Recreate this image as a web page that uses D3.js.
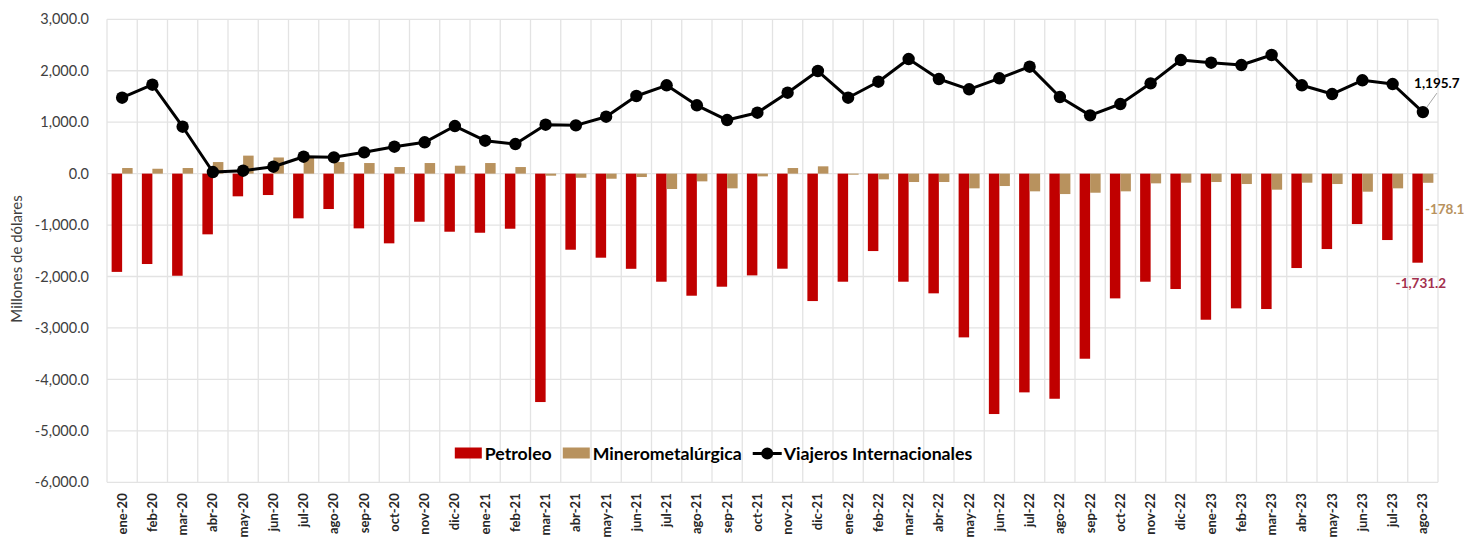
<!DOCTYPE html>
<html>
<head>
<meta charset="utf-8">
<script src="https://cdn.jsdelivr.net/npm/d3@7"></script>
<style>
  body { margin: 0; background: #ffffff; }
  svg { display: block; font-family: Lato, "Open Sans", sans-serif; }
</style>
</head>
<body>
<div id="chart"></div>
<script>
// Données (millones de dólares)
const meses = ["ene-20","feb-20","mar-20","abr-20","may-20","jun-20","jul-20","ago-20","sep-20","oct-20","nov-20","dic-20",
  "ene-21","feb-21","mar-21","abr-21","may-21","jun-21","jul-21","ago-21","sep-21","oct-21","nov-21","dic-21",
  "ene-22","feb-22","mar-22","abr-22","may-22","jun-22","jul-22","ago-22","sep-22","oct-22","nov-22","dic-22",
  "ene-23","feb-23","mar-23","abr-23","may-23","jun-23","jul-23","ago-23"];

const petroleo = [-1910,-1757,-1985,-1180,-441,-416,-869,-688,-1064,-1355,-935,-1129,
  -1149,-1071,-4440,-1479,-1634,-1850,-2101,-2373,-2198,-1978,-1848,-2477,
  -2101,-1505,-2101,-2327,-3183,-4673,-4252,-4376,-3598,-2425,-2101,-2243,
  -2840,-2619,-2632,-1835,-1466,-980,-1291,-1731.2];

const minero = [109,95,109,225,350,314,310,225,206,128,206,154,
  206,128,-40,-80,-99,-66,-299,-150,-286,-53,109,142,
  -20,-111,-163,-163,-286,-241,-344,-397,-371,-344,-189,-176,
  -163,-202,-312,-176,-202,-351,-286,-178.1];

const viajeros = [1476,1729,912,31,57,134,329,317,414,523,609,925,
  640,575,951,939,1106,1509,1717,1328,1042,1184,1573,1995,
  1476,1787,2228,1839,1639,1853,2079,1489,1133,1353,1755,2208,
  2156,2111,2306,1717,1547,1814,1742,1195.7];

const series = ["Petroleo", "Minerometalúrgica"];
const yTicks = [3000, 2000, 1000, 0, -1000, -2000, -3000, -4000, -5000, -6000];

//---------------------------------------------------------------------------------------

const width = 1472;
const height = 539;
const margin = {left: 107, right: 34, top: 19.3, bottom: 56.7};

const colRojo = "#C00000";
const colOcre = "#B8925E";

// formateur avec le tiret ASCII
const loc = d3.formatLocale({decimal: ".", thousands: ",", grouping: [3], currency: ["$", ""], minus: "-"});
const fmt = loc.format(",.1f");

const svg = d3.select("#chart")
  .append("svg")
  .attr("width", width)
  .attr("height", height);

// échelles
const x = d3.scaleBand()
  .domain(meses)
  .range([margin.left, width - margin.right])
  .padding(0);

const xSub = d3.scaleBand()
  .domain(series)
  .range([0, x.bandwidth()])
  .paddingInner(0)
  .paddingOuter(0.44);

const y = d3.scaleLinear()
  .domain([-6000, 3000])
  .range([height - margin.bottom, margin.top]);

//---------------------------------------------------------------------------------------

// grille
const grid = svg.append("g").attr("stroke", "#e3e3e3").attr("stroke-width", 1.3);

grid.selectAll(".h")
  .data(yTicks)
  .join("line")
  .attr("x1", margin.left)
  .attr("x2", width - margin.right)
  .attr("y1", d => y(d))
  .attr("y2", d => y(d));

grid.selectAll(".v")
  .data(d3.range(meses.length + 1))
  .join("line")
  .attr("x1", i => margin.left + i * x.step())
  .attr("x2", i => margin.left + i * x.step())
  .attr("y1", margin.top)
  .attr("y2", height - margin.bottom);

// axe Y
svg.append("g")
  .attr("transform", `translate(${margin.left}, 0)`)
  .call(d3.axisLeft(y).tickValues(yTicks).tickFormat(fmt).tickSize(0).tickPadding(18))
  .call(g => g.select(".domain").remove())
  .selectAll("text")
  .attr("font-family", "Lato, sans-serif")
  .attr("font-size", "14.5px")
  .attr("fill", "#404040");

// axe X
svg.append("g")
  .attr("transform", `translate(0, ${height - margin.bottom})`)
  .call(d3.axisBottom(x).tickSize(0).tickPadding(0))
  .call(g => g.select(".domain").remove())
  .selectAll("text")
  .attr("transform", "rotate(-90)")
  .attr("text-anchor", "end")
  .attr("dy", "0.35em")
  .attr("x", -11)
  .attr("y", 0)
  .attr("font-family", "Lato, sans-serif")
  .attr("font-weight", "bold")
  .attr("font-size", "13px")
  .attr("fill", "#262626");

// titre axe Y
svg.append("text")
  .attr("transform", `translate(22, 259) rotate(-90)`)
  .attr("text-anchor", "middle")
  .attr("font-size", "15px")
  .attr("fill", "#404040")
  .text("Millones de dólares");

//---------------------------------------------------------------------------------------

// barres
const barData = meses.map((m, i) => [
  {mes: m, serie: "Petroleo", v: petroleo[i]},
  {mes: m, serie: "Minerometalúrgica", v: minero[i]}
]).flat();

svg.append("g")
  .selectAll("rect")
  .data(barData)
  .join("rect")
  .attr("x", d => x(d.mes) + xSub(d.serie))
  .attr("width", xSub.bandwidth())
  .attr("y", d => y(Math.max(0, d.v)))
  .attr("height", d => Math.abs(y(d.v) - y(0)))
  .attr("fill", d => d.serie === "Petroleo" ? colRojo : colOcre);

// ligne Viajeros
const cx = m => x(m) + x.bandwidth() / 2;

const line = d3.line()
  .x((d, i) => cx(meses[i]))
  .y(d => y(d));

svg.append("path")
  .datum(viajeros)
  .attr("d", line)
  .attr("fill", "none")
  .attr("stroke", "#000")
  .attr("stroke-width", 3)
  .attr("stroke-linejoin", "round");

svg.append("g")
  .selectAll("circle")
  .data(viajeros)
  .join("circle")
  .attr("cx", (d, i) => cx(meses[i]))
  .attr("cy", d => y(d))
  .attr("r", 6.2)
  .attr("fill", "#000");

//---------------------------------------------------------------------------------------

// étiquettes du dernier mois
const last = meses.length - 1;
const xl = cx(meses[last]);

svg.append("line")
  .attr("x1", xl + 4)
  .attr("y1", y(viajeros[last]) - 5)
  .attr("x2", xl + 14)
  .attr("y2", y(viajeros[last]) - 19)
  .attr("stroke", "#a6a6a6")
  .attr("stroke-width", 1);

svg.append("text")
  .attr("x", xl + 14)
  .attr("y", y(viajeros[last]) - 24)
  .attr("text-anchor", "middle")
  .attr("font-weight", "bold")
  .attr("font-size", "13.5px")
  .attr("fill", "#000")
  .text(fmt(viajeros[last]));

svg.append("text")
  .attr("x", xl + 2)
  .attr("y", y(minero[last]) + 31)
  .attr("font-weight", "bold")
  .attr("font-size", "13.5px")
  .attr("fill", colOcre)
  .text(fmt(minero[last]));

svg.append("text")
  .attr("x", xl - 2)
  .attr("y", y(petroleo[last]) + 25)
  .attr("text-anchor", "middle")
  .attr("font-weight", "bold")
  .attr("font-size", "13.5px")
  .attr("fill", "#A3304E")
  .text(fmt(petroleo[last]));

//---------------------------------------------------------------------------------------

// légende
const legend = svg.append("g")
  .attr("font-weight", "bold")
  .attr("font-size", "17.7px")
  .attr("fill", "#000");

const legY = 453.5;
let lx = 0;
const items = [
  {label: "Petroleo", type: "rect", color: colRojo},
  {label: "Minerometalúrgica", type: "rect", color: colOcre},
  {label: "Viajeros Internacionales", type: "line", color: "#000"}
];

items.forEach((it, k) => {
  const g = legend.append("g").attr("transform", `translate(${lx}, 0)`);
  if (it.type === "rect") {
    g.append("rect")
      .attr("x", 0).attr("y", legY - 6)
      .attr("width", 27).attr("height", 11)
      .attr("fill", it.color);
  } else {
    g.append("line")
      .attr("x1", 0).attr("x2", 29)
      .attr("y1", legY).attr("y2", legY)
      .attr("stroke", it.color).attr("stroke-width", 3);
    g.append("circle")
      .attr("cx", 14.5).attr("cy", legY).attr("r", 6).attr("fill", it.color);
  }
  const t = g.append("text")
    .attr("x", it.type === "rect" ? 30 : 31)
    .attr("y", legY)
    .attr("dy", "0.35em")
    .text(it.label);
  lx += (it.type === "rect" ? 30 : 31) + t.node().getComputedTextLength() + 11;
});

const legW = lx - 11;
legend.attr("transform", `translate(${713.5 - legW / 2}, 0)`);
</script>
</body>
</html>
